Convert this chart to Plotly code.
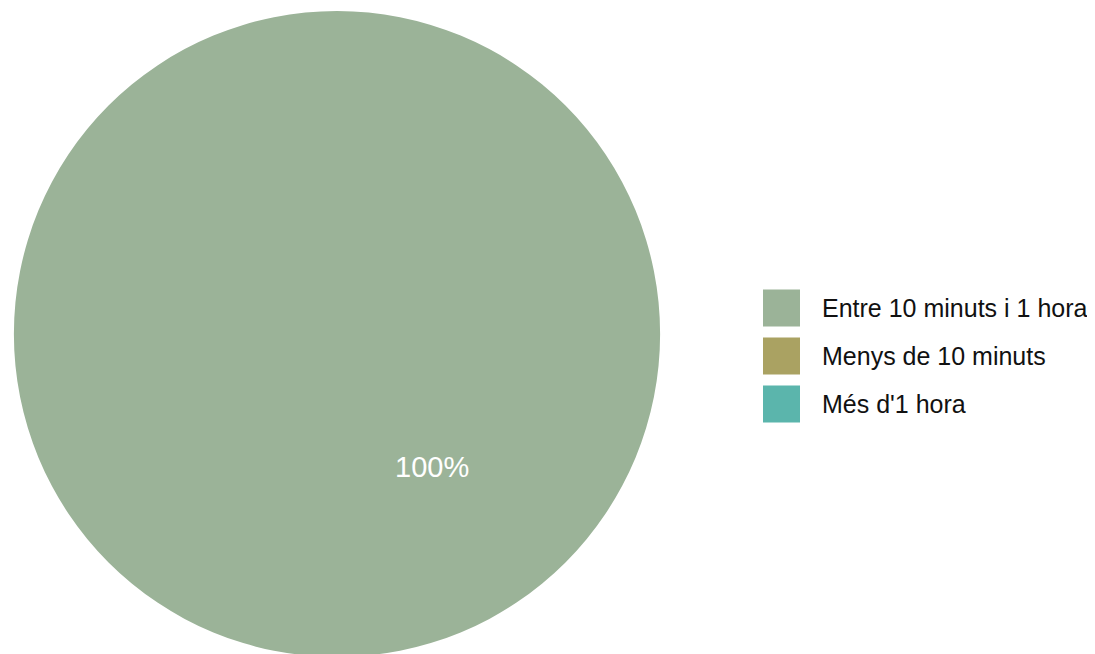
import plotly.graph_objects as go

categories = ["Entre 10 minuts i 1 hora", "Menys de 10 minuts", "Més d'1 hora"]
values = [100, 0, 0]
colors = ["#9BB398", "#AAA262", "#5BB5AC"]

W, H = 1087, 654
T, B = 3, 5
PH = H - T - B


def px_y(py):
    return (H - B - py) / PH


def px_x(px):
    return px / W


fig = go.Figure()
fig.add_trace(go.Pie(
    labels=categories, values=values, sort=False,
    marker=dict(colors=colors, line=dict(width=0)),
    textinfo="none", hoverinfo="label+percent",
    showlegend=False,
    domain=dict(x=[px_x(6), px_x(652)], y=[0, 1]),
))

total = sum(values)
fig.add_annotation(
    x=px_x(424), y=px_y(459), xref="paper", yref="paper",
    text=f"{round(values[0] / total * 100)}%", showarrow=False,
    font=dict(family="Liberation Sans, Arial", size=29, color="white"),
    xanchor="center", yanchor="middle",
)

for i, (lab, col) in enumerate(zip(categories, colors)):
    cy = 300 + 48 * i
    fig.add_shape(type="rect", xref="paper", yref="paper",
                  x0=px_x(755), x1=px_x(792), y0=px_y(cy + 18.5), y1=px_y(cy - 18.5),
                  fillcolor=col, line=dict(width=0))
    fig.add_annotation(x=px_x(812), y=px_y(cy), xref="paper", yref="paper",
                       text=lab, showarrow=False, xanchor="left", yanchor="middle",
                       font=dict(family="Liberation Sans, Arial", size=25, color="#111111"))

fig.update_layout(
    width=W, height=H,
    margin=dict(l=0, r=0, t=T, b=B),
    paper_bgcolor="white", plot_bgcolor="white",
)
fig.write_html("out.html")
